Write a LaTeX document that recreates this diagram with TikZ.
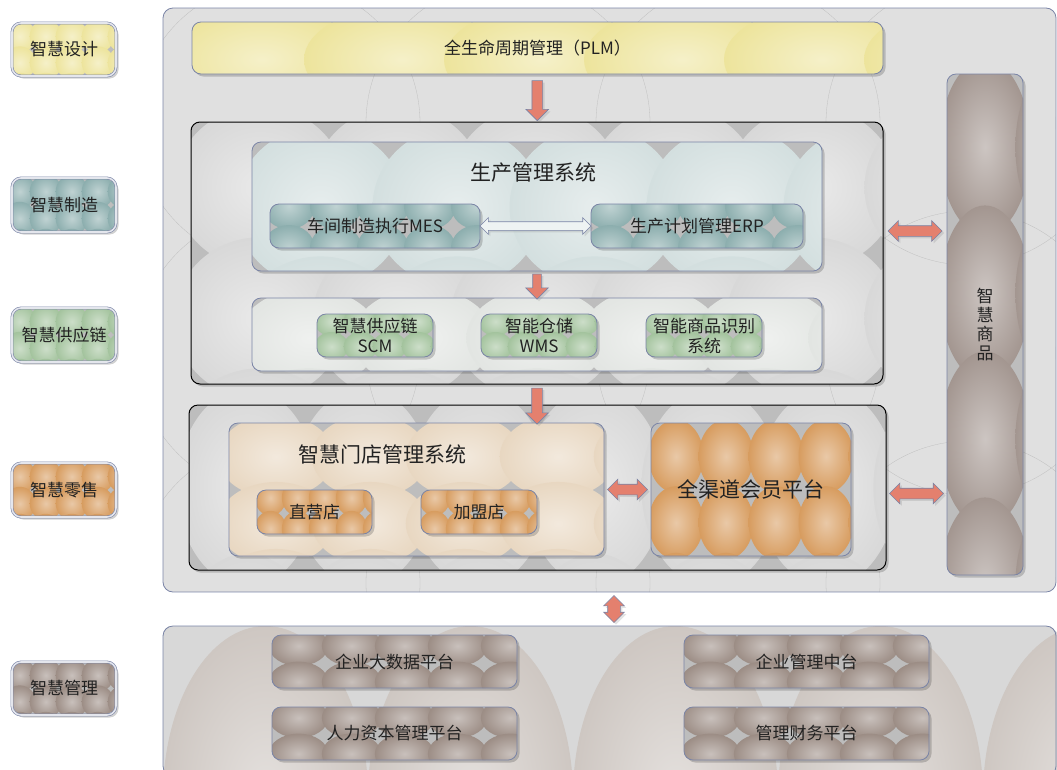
\documentclass[tikz,border=0pt]{standalone}
\usepackage{fontspec}
\setmainfont{Noto Sans CJK SC}
\usetikzlibrary{shapes.arrows,shadows,calc}
\definecolor{bordc}{HTML}{7A84A6}
\definecolor{txt}{HTML}{222222}
\definecolor{panelbg}{HTML}{E0E0E0}
\definecolor{graybg}{HTML}{BDBDBD}
\definecolor{yel}{HTML}{EDE49C}
\definecolor{teal}{HTML}{8CAEAE}
\definecolor{tealight}{HTML}{D3DFDF}
\definecolor{grn}{HTML}{A3C39D}
\definecolor{org}{HTML}{D79C5F}
\definecolor{peach}{HTML}{E8D7C1}
\definecolor{taupe}{HTML}{A39690}
\definecolor{taupeb}{HTML}{9C8D85}
\definecolor{salmon}{HTML}{E4806E}
\definecolor{lightbg}{HTML}{E2E5E2}
\definecolor{boxbg}{HTML}{D8D8D8}
\definecolor{botc}{HTML}{CEC7C2}
% offsets (in cells) of the first bubble centre
\newcommand\bubxo{0.5}
\newcommand\bubyo{0.5}
% textured (bubble) fill of a rounded box: x1 y1 x2 y2 background colour cellw cellh radiusfactor
\newcommand\bubfill[9]{%
  \fill[black,opacity=0.18,rounded corners=9pt] (#1+2.5,#2+2.5) rectangle (#3+2.5,#4+2.5);
  \begin{scope}
    \clip[rounded corners=9pt] (#1,#2) rectangle (#3,#4);
    \fill[#5] (#1,#2) rectangle (#3,#4);
    \pgfmathtruncatemacro\bnx{(#3-#1)/#7+1}
    \pgfmathtruncatemacro\bny{(#4-#2)/#8+1}
    \foreach \i in {0,...,\bnx}{\foreach \j in {0,...,\bny}{
      \shade[inner color=#6!55!white, outer color=#6]
        ({#1+(\i+\bubxo)*#7},{#2+(\j+\bubyo)*#8}) ellipse ({#9*#7} and {#9*#8});
    }}
  \end{scope}}
\tikzset{
  boxst/.style={draw=bordc, line width=0.8pt, rounded corners=9pt},
  blackbox/.style={draw=black, line width=1pt, rounded corners=9pt},
  legend/.style={draw=bordc, line width=0.6pt, double=white!80!bordc, double distance=1.6pt,
     rounded corners=9pt, minimum width=104, font=\fontsize{17}{19}\selectfont},
  fnt/.style={font=\fontsize{17}{20}\selectfont},
  ttl/.style={font=\fontsize{21}{24}\selectfont},
  shd/.style={drop shadow={opacity=0.22, shadow xshift=2pt, shadow yshift=-2pt}},
  varrow/.style={single arrow, fill=salmon, draw=bordc, line width=0.6pt, inner sep=0pt,
     inner ysep=5pt, single arrow head extend=6pt, shd, rotate=-90},
  harrow/.style={double arrow, fill=salmon, draw=bordc, line width=0.6pt, inner sep=0pt,
     inner ysep=5pt, double arrow head extend=5pt, shd},
}
\begin{document}
\begin{tikzpicture}[x=1pt,y=-1pt, every node/.style={inner sep=0pt, outer sep=0pt, align=center, text=txt}]
\useasboundingbox (0,0) rectangle (1057,769);

% ---------- main panel
\begin{scope}
  \clip[rounded corners=10pt] (163,8) rectangle (1056,592);
  \fill[panelbg] (163,8) rectangle (1056,592);
  \foreach \i in {0,...,4}{\foreach \j in {0,...,2}{
    \draw[black!25, line width=0.3pt] ({163+(\i+0.5)*230},{8+(\j+0.5)*230}) circle (142);}}
\end{scope}
\node[draw=bordc, line width=0.8pt, rounded corners=10pt, minimum width=893, minimum height=584] (panel) at (609.5,300) {};

% ---------- bottom panel
\bubfill{163}{626}{1056}{776}{boxbg}{botc}{205}{340}{0.5}
\node[draw=bordc, line width=0.8pt, rounded corners=10pt, minimum width=893, minimum height=150] (bpanel) at (609.5,701) {};

% ---------- legends
\renewcommand\bubxo{0.3}
\bubfill{12}{23}{116}{76}{graybg}{yel}{26}{26.5}{0.62}
\node[legend, minimum height=53] (lg1) at (64,49.5) {智慧设计};
\bubfill{12}{178}{116}{232}{graybg}{teal}{26}{27}{0.62}
\node[legend, minimum height=54] (lg2) at (64,205) {智慧制造};
\bubfill{12}{308}{116}{362}{graybg}{grn}{26}{27}{0.62}
\node[legend, minimum height=54] (lg3) at (64,335) {智慧供应链};
\bubfill{12}{463}{116}{517}{graybg}{org}{26}{27}{0.62}
\node[legend, minimum height=54] (lg4) at (64,490) {智慧零售};
\bubfill{12}{662}{116}{715}{graybg}{taupeb}{26}{26.5}{0.62}
\node[legend, minimum height=53] (lg5) at (64,688.5) {智慧管理};
\renewcommand\bubxo{0.5}

% ---------- PLM
\bubfill{192}{22}{883}{74}{graybg}{yel}{140}{75}{0.7}
\node[boxst, minimum width=691, minimum height=52, fnt] (plm) at (537.5,48) {全生命周期管理（PLM）};

% ---------- production block
\bubfill{191}{122}{883}{384}{graybg}{boxbg}{138}{131}{0.62}
\node[blackbox, minimum width=692, minimum height=262] (box1) at (537,253) {};
\bubfill{252}{142}{822}{271}{graybg}{tealight}{137}{130}{0.62}
\node[boxst, minimum width=570, minimum height=129] (prodsys) at (537,206.5) {};
\node[ttl] (prodttl) at (533,173) {生产管理系统};
\renewcommand\bubxo{0.4}\renewcommand\bubyo{0.05}
\bubfill{270}{204}{480}{248}{graybg}{teal}{47}{42}{0.55}
\node[boxst, minimum width=210, minimum height=44, fnt] (mes) at (375,226) {车间制造执行MES};
\bubfill{591}{204}{803}{248}{graybg}{teal}{47}{42}{0.55}
\node[boxst, minimum width=212, minimum height=44, fnt] (erp) at (697,226) {生产计划管理ERP};
\renewcommand\bubxo{0.5}\renewcommand\bubyo{0.5}
\bubfill{252}{298}{822}{371}{graybg}{lightbg}{114}{80}{0.62}
\node[boxst, minimum width=570, minimum height=73] (supply) at (537,334.5) {};
\renewcommand\bubyo{0.3}
\bubfill{317}{314}{433}{357}{graybg}{grn}{29}{25}{0.58}
\node[boxst, minimum width=116, minimum height=43, fnt] (scm) at (375,335.5) {智慧供应链\\SCM};
\bubfill{481}{314}{597}{357}{graybg}{grn}{29}{25}{0.58}
\node[boxst, minimum width=116, minimum height=43, fnt] (wms) at (539,335.5) {智能仓储\\WMS};
\bubfill{646}{314}{762}{357}{graybg}{grn}{29}{25}{0.58}
\node[boxst, minimum width=116, minimum height=43, fnt] (rfid) at (704,335.5) {智能商品识别\\系统};
\renewcommand\bubyo{0.5}

% ---------- retail block
\bubfill{189}{405}{886}{570}{graybg}{boxbg}{116}{165}{0.6}
\node[blackbox, minimum width=697, minimum height=165] (box2) at (537.5,487.5) {};
\bubfill{229}{423}{604}{556}{graybg}{peach}{94}{67}{0.62}
\node[boxst, minimum width=375, minimum height=133] (store) at (416.5,489.5) {};
\node[ttl] (storettl) at (382,454) {智慧门店管理系统};
\renewcommand\bubyo{0.25}
\bubfill{257}{490}{372}{534}{graybg}{org}{27}{31}{0.58}
\node[boxst, minimum width=115, minimum height=44, fnt] (zy) at (314.5,512) {直营店};
\bubfill{421}{490}{537}{534}{graybg}{org}{27}{31}{0.58}
\node[boxst, minimum width=116, minimum height=44, fnt] (jm) at (479,512) {加盟店};
\renewcommand\bubyo{0.5}
\bubfill{651}{423}{851}{556}{graybg}{org}{50}{66.5}{0.55}
\node[boxst, minimum width=200, minimum height=133, ttl] (member) at (751,489.5) {全渠道会员平台};

% ---------- smart goods
\bubfill{947}{74}{1023}{575}{graybg}{taupe}{76}{146}{0.6}
\node[boxst, minimum width=76, minimum height=501, font=\fontsize{17}{19}\selectfont] (goods) at (985,324.5) {智\\慧\\商\\品};

% ---------- management platforms
\renewcommand\bubyo{0.3}
\bubfill{272}{635}{517}{688}{graybg}{taupeb}{53}{36}{0.56}
\node[boxst, minimum width=245, minimum height=53, fnt] (bd) at (394.5,661.5) {企业大数据平台};
\bubfill{272}{707}{517}{760}{graybg}{taupeb}{53}{36}{0.56}
\node[boxst, minimum width=245, minimum height=53, fnt] (hr) at (394.5,733.5) {人力资本管理平台};
\bubfill{684}{635}{929}{688}{graybg}{taupeb}{53}{36}{0.56}
\node[boxst, minimum width=245, minimum height=53, fnt] (mid) at (806.5,661.5) {企业管理中台};
\bubfill{684}{707}{929}{760}{graybg}{taupeb}{53}{36}{0.56}
\node[boxst, minimum width=245, minimum height=53, fnt] (fin) at (806.5,733.5) {管理财务平台};
\renewcommand\bubyo{0.5}

% ---------- connectors (arrow shapes placed between named nodes)
\node[varrow, minimum height=40] (a1) at ($(plm.south)!0.5!(box1.north)$) {};
\node[varrow, minimum height=25, inner ysep=4pt, single arrow head extend=7pt] (a2) at ($(prodsys.south)!0.5!(supply.north)$) {};
\node[varrow, minimum height=36] (a3) at ($(box1.south)!0.5!(box1.south |- store.north)$) {};
\node[harrow, fill=white!85!teal, minimum height=111, inner ysep=4pt, double arrow head extend=4pt]
   (a4) at ($(mes.east)!0.5!(erp.west)$) {};
\node[harrow, minimum height=40] (a5) at ($(store.east)!0.5!(member.west)$) {};
\node[harrow, minimum height=54] (a6) at ($(box1.east |- mes.east)!0.5!(goods.west |- mes.east)+(0,5)$) {};
\node[harrow, minimum height=54] (a7) at ($(box2.east |- member.east)!0.5!(goods.west |- member.east)+(0,4)$) {};
\node[harrow, minimum height=27, inner ysep=6pt, double arrow head extend=4pt, rotate=90]
   (a8) at ($(panel.south)!0.5!(bpanel.north)+(4.5,0)$) {};
\end{tikzpicture}
\end{document}
